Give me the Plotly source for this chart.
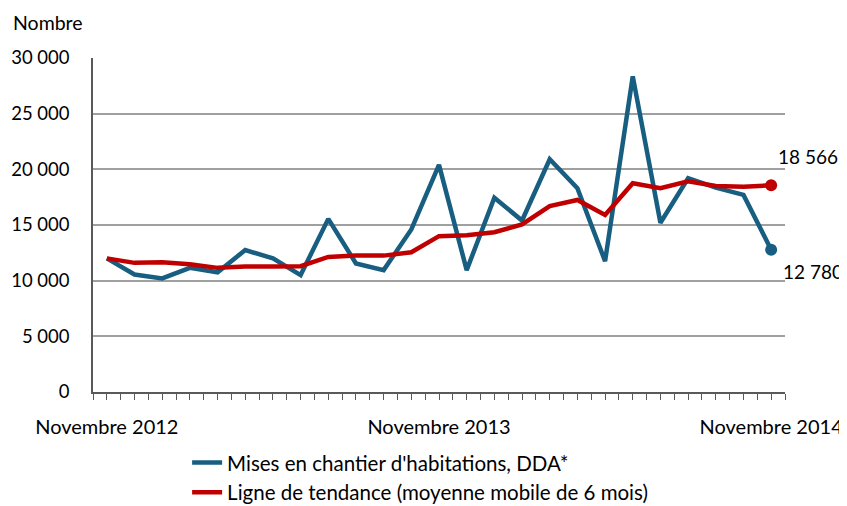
import plotly.graph_objects as go

months = list(range(25))  # Novembre 2012 .. Novembre 2014
tick_positions = [0, 12, 24]
tick_labels = ["Novembre 2012", "Novembre 2013", "Novembre 2014"]

mises_en_chantier = [12000, 10550, 10200, 11150, 10750, 12750, 12000, 10500, 15550,
                     11550, 10950, 14600, 20400, 10950, 17450, 15400, 20900, 18300,
                     11750, 28350, 15200, 19200, 18350, 17700, 12780]
tendance = [12000, 11600, 11650, 11480, 11150, 11280, 11280, 11300, 12130,
            12250, 12250, 12550, 14000, 14070, 14350, 15050, 16700, 17250,
            15900, 18750, 18300, 18930, 18500, 18430, 18566]

y_ticks = [0, 5000, 10000, 15000, 20000, 25000, 30000]
y_tick_labels = ["0", "5 000", "10 000", "15 000", "20 000", "25 000", "30 000"]

name_blue = "Mises en chantier d'habitations, DDA*"
name_red = "Ligne de tendance (moyenne mobile de 6 mois)"

BLUE = "#175E80"
RED = "#C00000"
FONT = "Lato"

fig = go.Figure()
fig.add_trace(go.Scatter(x=months, y=mises_en_chantier, mode="lines", name=name_blue,
                         line=dict(color=BLUE, width=4.5)))
fig.add_trace(go.Scatter(x=months, y=tendance, mode="lines", name=name_red,
                         line=dict(color=RED, width=4.5)))
fig.add_trace(go.Scatter(x=[months[-1]], y=[mises_en_chantier[-1]], mode="markers",
                         marker=dict(color=BLUE, size=12), showlegend=False))
fig.add_trace(go.Scatter(x=[months[-1]], y=[tendance[-1]], mode="markers",
                         marker=dict(color=RED, size=12), showlegend=False))

fig.add_annotation(x=months[-1], y=tendance[-1], text="18 566", showarrow=False,
                   xshift=37, yshift=29, font=dict(size=19, color="black", family=FONT))
fig.add_annotation(x=months[-1], y=mises_en_chantier[-1], text="12 780", showarrow=False,
                   xshift=42, yshift=-22, font=dict(size=19, color="black", family=FONT))
fig.add_annotation(xref="paper", yref="paper", x=-0.118, y=1.0, yshift=36,
                   xanchor="left", yanchor="middle", text="Nombre", showarrow=False,
                   font=dict(size=19.5, color="black", family=FONT))

fig.update_layout(
    width=847, height=506,
    margin=dict(l=85, r=70, t=50, b=122, autoexpand=False),
    paper_bgcolor="white", plot_bgcolor="white",
    font=dict(family=FONT, size=18, color="black"),
    showlegend=True,
    legend=dict(x=0.136, y=-0.152, xanchor="left", yanchor="top", orientation="v",
                font=dict(size=20.5, family=FONT), bgcolor="rgba(0,0,0,0)",
                tracegroupgap=0, itemwidth=30),
)
fig.update_xaxes(
    range=[-0.5, 24.5], tickmode="array", tickvals=tick_positions, ticktext=tick_labels,
    ticks="outside", ticklen=6, tickcolor="#595959", tickwidth=1.2,
    minor=dict(tick0=-0.5, dtick=0.5, ticks="outside", ticklen=6, tickcolor="#595959", tickwidth=1.2),
    showline=True, linecolor="#595959", linewidth=1.5, showgrid=False, zeroline=False,
    ticklabelstandoff=10, tickfont=dict(size=20), automargin=False,
)
fig.update_yaxes(
    range=[0, 30000], tickmode="array", tickvals=y_ticks, ticktext=y_tick_labels,
    showline=True, linecolor="#595959", linewidth=1.5, ticks="",
    showgrid=True, gridcolor="#A0A0A0", gridwidth=1.5, zeroline=False,
    ticklabelstandoff=18, tickfont=dict(size=18.5), automargin=False,
)

fig.write_html("out.html")
